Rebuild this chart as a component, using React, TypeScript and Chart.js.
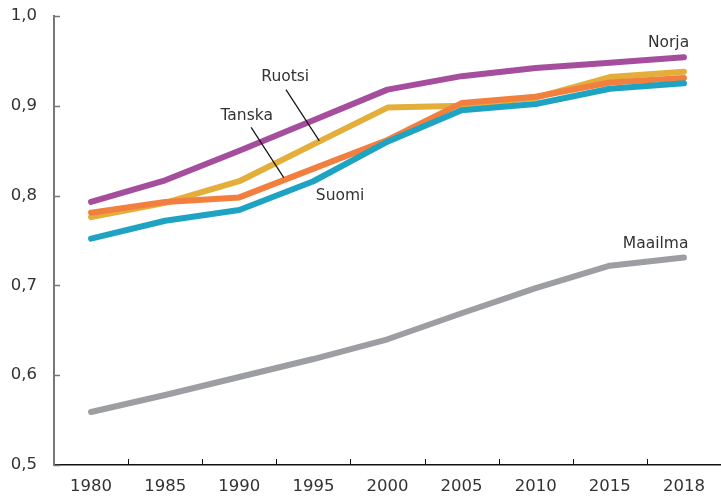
import React, { useEffect, useRef } from "react";
import { Chart, registerables } from "chart.js";

Chart.register(...registerables);

const years = ["1980", "1985", "1990", "1995", "2000", "2005", "2010", "2015", "2018"];
const norja = [0.793, 0.817, 0.85, 0.884, 0.918, 0.933, 0.942, 0.948, 0.954];
const ruotsi = [0.776, 0.792, 0.816, 0.857, 0.898, 0.9, 0.909, 0.932, 0.938];
const tanska = [0.781, 0.793, 0.798, 0.83, 0.862, 0.903, 0.91, 0.926, 0.931];
const suomi = [0.752, 0.772, 0.784, 0.816, 0.86, 0.895, 0.902, 0.919, 0.925];
const maailma = [0.559, 0.578, 0.598, 0.618, 0.64, 0.669, 0.697, 0.722, 0.731];
const yTicks = [0.5, 0.6, 0.7, 0.8, 0.9, 1.0];

const FONT = "'DejaVu Sans', sans-serif";

// label annotations in data space: [text, categoryIndex, value, align]
const labels: [string, number, number, CanvasTextAlign][] = [
  ["Norja", 8.07, 0.97, "right"],
  ["Maailma", 8.06, 0.746, "right"],
  ["Ruotsi", 2.62, 0.932, "center"],
  ["Tanska", 2.1, 0.889, "center"],
  ["Suomi", 3.36, 0.8, "center"],
];
// leader lines: [idx1, v1, idx2, v2]
const leaders: [number, number, number, number][] = [
  [2.63, 0.918, 3.08, 0.861],
  [2.16, 0.876, 2.6, 0.82],
];

const annotPlugin = {
  id: "annot",
  afterDraw(chart: any) {
    const { ctx } = chart;
    const xs = chart.scales.x;
    const ys = chart.scales.y;
    const area = chart.chartArea;
    ctx.save();
    ctx.strokeStyle = "#777";
    ctx.lineWidth = 1.5;
    yTicks.forEach((v) => {
      const y = Math.round(ys.getPixelForValue(v)) + 0.5;
      ctx.beginPath();
      ctx.moveTo(area.left, y);
      ctx.lineTo(area.left + 6, y);
      ctx.stroke();
    });
    ctx.strokeStyle = "#111";
    ctx.lineWidth = 1;
    for (let i = 1; i < years.length; i++) {
      const x = Math.round(xs.getPixelForValue(i - 0.5)) + 0.5;
      ctx.beginPath();
      ctx.moveTo(x, area.bottom);
      ctx.lineTo(x, area.bottom - 6);
      ctx.stroke();
    }
    ctx.strokeStyle = "#111";
    ctx.lineWidth = 1.2;
    leaders.forEach(([i1, v1, i2, v2]) => {
      ctx.beginPath();
      ctx.moveTo(xs.getPixelForValue(i1), ys.getPixelForValue(v1));
      ctx.lineTo(xs.getPixelForValue(i2), ys.getPixelForValue(v2));
      ctx.stroke();
    });
    ctx.fillStyle = "#333";
    ctx.font = `15.5px ${FONT}`;
    ctx.textBaseline = "middle";
    labels.forEach(([t, i, v, a]) => {
      ctx.textAlign = a;
      ctx.fillText(t, xs.getPixelForValue(i), ys.getPixelForValue(v));
    });
    ctx.restore();
  },
};

export default function App() {
  const ref = useRef<HTMLCanvasElement>(null);
  useEffect(() => {
    if (!ref.current) return;
    const mk = (label: string, data: number[], color: string) => ({
      label,
      data,
      borderColor: color,
      backgroundColor: color,
      borderWidth: 6,
      borderCapStyle: "round" as const,
      borderJoinStyle: "round" as const,
      pointRadius: 0,
      tension: 0,
    });
    const chart = new Chart(ref.current, {
      type: "line",
      data: {
        labels: years,
        datasets: [
          mk("Maailma", maailma, "#9c9ea1"),
          mk("Suomi", suomi, "#1ea3c3"),
          mk("Tanska", tanska, "#f27f3d"),
          mk("Ruotsi", ruotsi, "#e4ae3b"),
          mk("Norja", norja, "#a54e9d"),
        ],
      },
      options: {
        animation: false,
        responsive: false,
        layout: { padding: { top: 16, right: 0, left: 0, bottom: 0 } },
        plugins: { legend: { display: false }, tooltip: { enabled: false } },
        scales: {
          x: {
            offset: true,
            grid: { display: false, offset: true, drawTicks: false },
            border: { display: true, color: "#111", width: 1.5 },
            ticks: { color: "#333", font: { family: FONT, size: 16.5 }, padding: 12 },
            afterFit: (s: any) => {
              s.height = 32;
              s.paddingLeft = 0;
              s.paddingRight = 0;
            },
          },
          y: {
            min: 0.5,
            max: 1.0,
            grid: { display: false, drawTicks: false },
            border: { display: true, color: "#777", width: 2 },
            afterBuildTicks: (s: any) => {
              s.ticks = yTicks.map((v) => ({ value: v }));
            },
            afterFit: (s: any) => {
              s.width = 54;
              s.paddingTop = 0;
              s.paddingBottom = 0;
            },
            ticks: {
              color: "#333",
              font: { family: FONT, size: 16.5 },
              padding: 17,
              callback: (v: any) => Number(v).toFixed(1).replace(".", ","),
            },
          },
        },
      },
      plugins: [annotPlugin],
    });
    return () => chart.destroy();
  }, []);
  return (
    <div style={{ position: "fixed", left: 0, top: 0, width: 721, height: 497, background: "#fff" }}>
      <canvas ref={ref} width={721} height={497} style={{ width: 721, height: 497 }} />
    </div>
  );
}
